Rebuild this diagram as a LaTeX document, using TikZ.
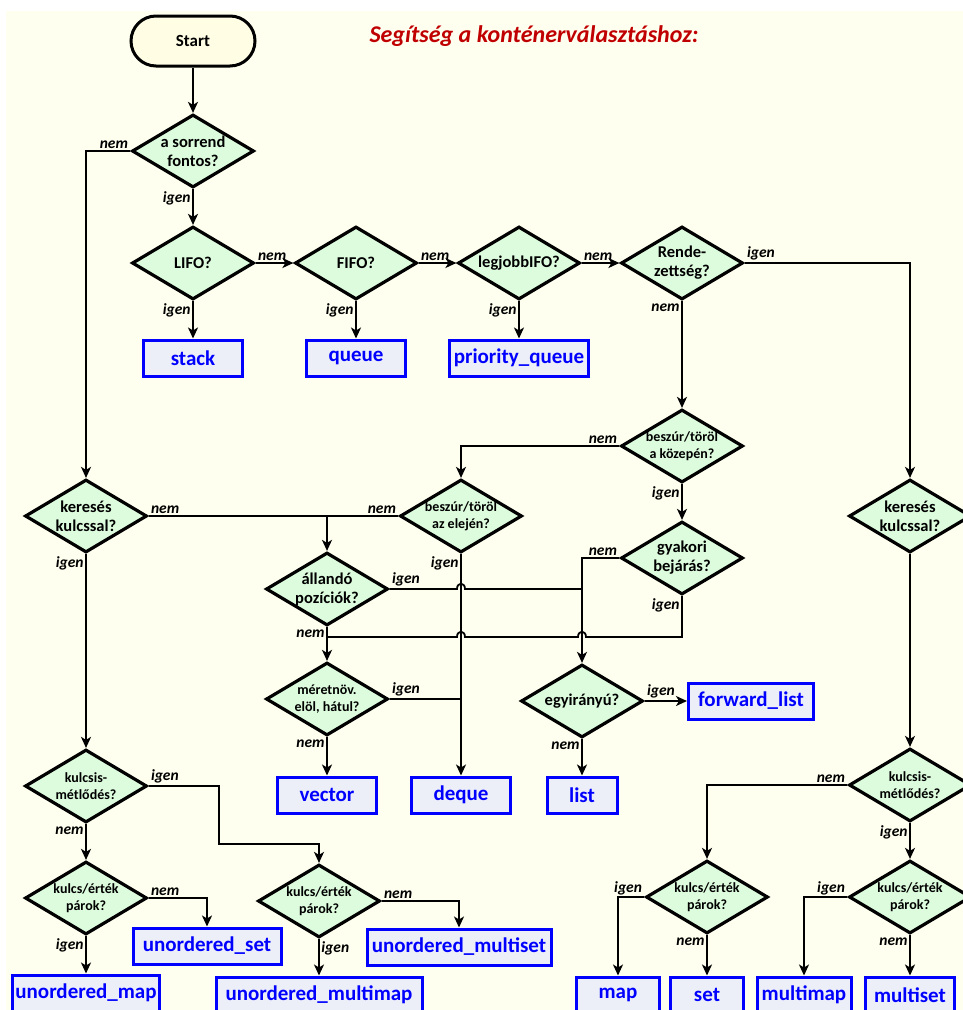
\documentclass[tikz,border=0pt]{standalone}
\usepackage{fontspec}
\setmainfont{Carlito}
\usetikzlibrary{arrows.meta, shapes.geometric, calc}

\definecolor{bgcol}{RGB}{255,255,240}
\definecolor{startcol}{RGB}{255,253,228}
\definecolor{qcol}{RGB}{221,252,221}
\definecolor{boxcol}{RGB}{236,239,248}
\definecolor{titlecol}{RGB}{192,0,0}

\begin{document}
\begin{tikzpicture}[x=1pt, y=-1pt, align=center,
  question/.style={diamond, draw, line width=3.2pt, fill=qcol, aspect=1.67, inner sep=0pt,
    minimum width=122pt, minimum height=73pt, font=\fontsize{16.5}{19}\selectfont\bfseries},
  smallq/.style={question, font=\fontsize{14}{17}\selectfont\bfseries},
  box/.style={rectangle, draw=blue, fill=boxcol, line width=3pt, text=blue, inner xsep=2pt,
    minimum height=36pt, font=\fontsize{21}{21}\selectfont\bfseries},
  lab/.style={font=\fontsize{15.5}{15.5}\selectfont\bfseries\itshape, inner sep=1.5pt},
  line/.style={line width=1.8pt},
  arr/.style={line width=1.8pt, -{Stealth[length=11pt, width=10pt, inset=3pt]}}]

\clip (0,0) rectangle (963,1010);
\fill[white] (0,0) rectangle (963,1010);
\fill[bgcol] (6,11) rectangle (963,1010);

\node[rectangle, rounded corners=25pt, draw, line width=3pt, fill=startcol, minimum width=124pt,
  minimum height=50pt, font=\fontsize{17}{17}\selectfont\bfseries] (start) at (193,41) {Start};
\node[text=titlecol, font=\fontsize{24}{24}\selectfont\bfseries\itshape] (title) at (534,36)
  {Segítség a konténerválasztáshoz:};

\path (193,151) node[question] (sorrend) {a sorrend\\fontos?}
      (193,263) node[question] (lifo) {LIFO?}
      (356,263) node[question] (fifo) {FIFO?}
      (519,263) node[question] (legjobb) {legjobbIFO?}
      (682,263) node[question] (rend) {Rende-\\zettség?}
      (682,446) node[smallq] (kozep) {beszúr/töröl\\a közepén?}
      (461,516) node[smallq] (eleje) {beszúr/töröl\\az elején?}
      (86,516) node[question] (keres1) {keresés\\kulcssal?}
      (910,516) node[question] (keres2) {keresés\\kulcssal?}
      (682,558) node[question] (gyak) {gyakori\\bejárás?}
      (327,589) node[question] (aland) {állandó\\pozíciók?}
      (327,699) node[smallq] (meret) {méretnöv.\\elöl, hátul?}
      (582,701) node[question] (egyir) {egyirányú?}
      (86,786) node[smallq] (kism1) {kulcsis-\\métlődés?}
      (910,785) node[smallq] (kism2) {kulcsis-\\métlődés?}
      (86,898) node[smallq] (kv1) {kulcs/érték\\párok?}
      (319,901) node[smallq] (kv2) {kulcs/érték\\párok?}
      (707,897) node[smallq] (kv3) {kulcs/érték\\párok?}
      (910,897) node[smallq] (kv4) {kulcs/érték\\párok?};

\path (193,358) node[box, minimum width=99pt] (stack) {stack}
      (356,358) node[box, minimum width=99pt] (queue) {queue}
      (519,358) node[box, minimum width=139pt] (pqueue) {priority\_queue}
      (327,795) node[box, minimum width=99pt] (vector) {vector}
      (461,795) node[box, minimum width=99pt] (deque) {deque}
      (582,795) node[box, minimum width=70pt] (list) {list}
      (751,701) node[box, minimum width=125pt] (flist) {forward\_list}
      (207,946) node[box, minimum width=148pt] (uset) {unordered\_set}
      (86,993) node[box, minimum width=147pt] (umap) {unordered\_map}
      (459,947) node[box, minimum width=184pt] (umset) {unordered\_multiset}
      (319,995) node[box, minimum width=206pt] (ummap) {unordered\_multimap}
      (618,995) node[box, minimum width=83pt] (map) {map}
      (707,995) node[box, minimum width=73pt] (set) {set}
      (804,995) node[box, minimum width=94pt] (mmap) {multimap}
      (910,995) node[box, minimum width=89pt] (mset) {multiset};

\coordinate (jtop) at (327,516);
\coordinate (jlow) at (327,637);
\coordinate (kbend) at (219,844);

% top row
\draw[arr] (start) -- (sorrend);
\draw[arr] (sorrend.west) node[lab, above left] {nem} -| (keres1.north);
\draw[arr] (sorrend.south) node[lab, below left] {igen} -- (lifo.north);
\draw[arr] (lifo.east) node[lab, above right] {nem} -- (fifo.west);
\draw[arr] (fifo.east) node[lab, above right] {nem} -- (legjobb.west);
\draw[arr] (legjobb.east) node[lab, above right] {nem} -- (rend.west);
\draw[arr] (lifo.south) node[lab, below left] {igen} -- (stack.north);
\draw[arr] (fifo.south) node[lab, below left] {igen} -- (queue.north);
\draw[arr] (legjobb.south) node[lab, below left] {igen} -- (pqueue.north);
\draw[arr] (rend.east) node[lab, above right] {igen} -| (keres2.north);
\draw[arr] (rend.south) node[lab, below left] {nem} -- (kozep.north);

% sequences
\draw[arr] (kozep.west) node[lab, above left] {nem} -| (eleje.north);
\draw[arr] (kozep.south) node[lab, below left] {igen} -- (gyak.north);
\draw[line] (keres1.east) node[lab, above right] {nem} -- (eleje.west) node[lab, above left] {nem};
\draw[arr] (jtop) -- (aland.north);
\draw[arr] (gyak.west) node[lab, above left] {nem} -| (egyir.north);
\draw[line] (aland.east) node[lab, above right] {igen}
  -- ($(eleje.south |- aland.east)+(-4,0)$) .. controls +(0,-7) and +(0,-7) .. ($(eleje.south |- aland.east)+(4,0)$)
  -- (egyir.north |- aland.east);
\draw[arr] (aland.south) node[lab, below left] {nem} -- (meret.north);
\draw[line] (gyak.south) node[lab, below left] {igen} |- ($(egyir.north |- jlow)+(4,0)$)
  .. controls +(0,-7) and +(0,-7) .. ($(egyir.north |- jlow)+(-4,0)$)
  -- ($(eleje.south |- jlow)+(4,0)$) .. controls +(0,-7) and +(0,-7) .. ($(eleje.south |- jlow)+(-4,0)$)
  -- (jlow);
\draw[line] (meret.east) node[lab, above right] {igen} -- (eleje.south |- meret.east);
\draw[arr] (eleje.south) node[lab, below left] {igen} -- (deque.north);
\draw[arr] (meret.south) node[lab, below left] {nem} -- (vector.north);
\draw[arr] (egyir.east) node[lab, above right] {igen} -- (flist.west);
\draw[arr] (egyir.south) node[lab, below left] {nem} -- (list.north);

% unordered
\draw[arr] (keres1.south) node[lab, below left] {igen} -- (kism1.north);
\draw[arr] (kism1.east) node[lab, above right] {igen} -| (kbend) -| (kv2.north);
\draw[arr] (kism1.south) node[lab, below left] {nem} -- (kv1.north);
\draw[arr] (kv1.east) node[lab, above right] {nem} -| (uset.north);
\draw[arr] (kv1.south) node[lab, below left] {igen} -- (umap.north);
\draw[arr] (kv2.east) node[lab, above right] {nem} -| (umset.north);
\draw[arr] (kv2.south) node[lab, below right] {igen} -- (ummap.north);

% ordered
\draw[arr] (keres2.south) -- (kism2.north);
\draw[arr] (kism2.west) node[lab, above left] {nem} -| (kv3.north);
\draw[arr] (kism2.south) node[lab, below left] {igen} -- (kv4.north);
\draw[arr] (kv3.west) node[lab, above left] {igen} -| (map.north);
\draw[arr] (kv3.south) node[lab, below left] {nem} -- (set.north);
\draw[arr] (kv4.west) node[lab, above left] {igen} -| (mmap.north);
\draw[arr] (kv4.south) node[lab, below left] {nem} -- (mset.north);

\end{tikzpicture}
\end{document}
